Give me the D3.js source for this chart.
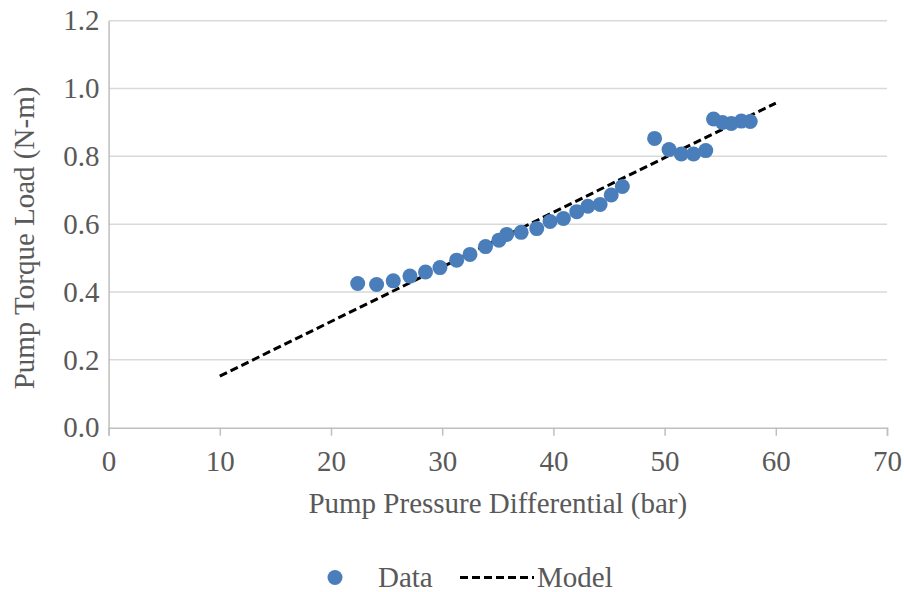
<!DOCTYPE html>
<html>
<head>
<meta charset="utf-8">
<script src="https://cdn.jsdelivr.net/npm/d3@7"></script>
<style>
  body { margin: 0; background: #fff; }
  svg { font-family: "Liberation Serif", "Times New Roman", serif; }
</style>
</head>
<body>
<svg width="904" height="592"></svg>
<script>
// measured data points (pressure in bar, torque in N-m)
const pressure = [22.4, 24.1, 25.6, 27.1, 28.5, 29.8, 31.3, 32.5, 33.9, 35.1, 35.8, 37.1, 38.5, 39.7, 40.9,
  42.1, 43.1, 44.2, 45.2, 46.2, 49.1, 50.4, 51.5, 52.6, 53.7, 54.4, 55.2, 56.0, 56.9, 57.7];
const torque = [0.425, 0.422, 0.433, 0.447, 0.459, 0.472, 0.494, 0.511, 0.534, 0.553, 0.570, 0.576, 0.587,
  0.608, 0.617, 0.637, 0.653, 0.658, 0.686, 0.711, 0.853, 0.820, 0.807, 0.807, 0.817, 0.910, 0.900, 0.897,
  0.904, 0.903];

// model line end points
const modelX = [10, 60];
const modelY = [0.152, 0.957];

const xTicks = [0, 10, 20, 30, 40, 50, 60, 70];
const yTicks = [0, 0.2, 0.4, 0.6, 0.8, 1.0, 1.2];

const svg = d3.select("svg");
const textColor = "#595959";
const fontFam = "Liberation Serif";

const x = d3.scaleLinear().domain([0, 70]).range([108.6, 887]);
const y = d3.scaleLinear().domain([0, 1.2]).range([427.7, 20.7]);

// gridlines
svg.append("g")
  .selectAll("line")
  .data(yTicks.filter(d => d > 0))
  .join("line")
  .attr("x1", x(0)).attr("x2", x(70))
  .attr("y1", d => y(d)).attr("y2", d => y(d))
  .attr("stroke", "#d9d9d9")
  .attr("stroke-width", 1.5);

// y axis
const yAxis = svg.append("g")
  .attr("transform", `translate(${x(0)},0)`)
  .call(d3.axisLeft(y).tickValues(yTicks).tickFormat(d3.format(".1f")).tickSize(0).tickPadding(9));
yAxis.select(".domain").attr("stroke", "#bfbfbf").attr("stroke-width", 1.5);
yAxis.selectAll("text").attr("fill", textColor).style("font-size", "29px")
  .style("font-family", fontFam);

// x axis
const xAxis = svg.append("g")
  .attr("transform", `translate(0,${y(0)})`)
  .call(d3.axisBottom(x).tickValues(xTicks).tickSizeOuter(0).tickSize(8).tickPadding(15));
xAxis.select(".domain").attr("stroke", "#bfbfbf").attr("stroke-width", 1.5);
xAxis.selectAll(".tick line").attr("stroke", "#bfbfbf").attr("stroke-width", 1.5);
xAxis.selectAll("text").attr("fill", textColor).style("font-size", "29px")
  .style("font-family", fontFam);

// model line
const modelPts = modelX.map((d, i) => [d, modelY[i]]);
svg.append("path")
  .datum(modelPts)
  .attr("d", d3.line().x(d => x(d[0])).y(d => y(d[1])))
  .attr("fill", "none")
  .attr("stroke", "#000")
  .attr("stroke-width", 3)
  .attr("stroke-dasharray", "8,4");

// data points
svg.append("g")
  .selectAll("circle")
  .data(pressure.map((d, i) => [d, torque[i]]))
  .join("circle")
  .attr("cx", d => x(d[0]))
  .attr("cy", d => y(d[1]))
  .attr("r", 7.5)
  .attr("fill", "#4a7ebb");

// axis titles
svg.append("text")
  .attr("x", (x(0) + x(70)) / 2)
  .attr("y", 513)
  .attr("text-anchor", "middle")
  .attr("fill", textColor)
  .style("font-size", "29px")
  .text("Pump Pressure Differential (bar)");

svg.append("text")
  .attr("transform", "translate(34,238) rotate(-90)")
  .attr("text-anchor", "middle")
  .attr("fill", textColor)
  .style("font-size", "29px")
  .text("Pump Torque Load (N-m)");

// legend
const legend = svg.append("g");
legend.append("circle").attr("cx", 335).attr("cy", 577.5).attr("r", 7.5).attr("fill", "#4a7ebb");
legend.append("text").attr("x", 378).attr("y", 587).attr("fill", textColor)
  .style("font-size", "29px").text("Data");
legend.append("line").attr("x1", 460).attr("x2", 534).attr("y1", 577.5).attr("y2", 577.5)
  .attr("stroke", "#000").attr("stroke-width", 3).attr("stroke-dasharray", "8,4");
legend.append("text").attr("x", 537).attr("y", 587).attr("fill", textColor)
  .style("font-size", "29px").text("Model");
</script>
</body>
</html>
